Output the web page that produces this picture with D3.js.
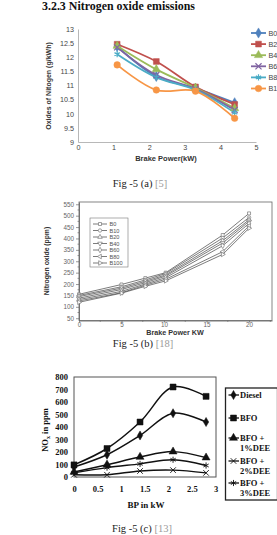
<!DOCTYPE html>
<html><head><meta charset="utf-8">
<script src="https://cdn.jsdelivr.net/npm/d3@7"></script>
<style>body{margin:0;background:#fff}svg{display:block}</style>
</head><body>
<svg id="c" width="277" height="535"></svg>
<script>
// ---------- text ----------
const heading = "3.2.3 Nitrogen oxide emissions";
const captionMain = ["Fig -5 (a) ", "Fig -5 (b) ", "Fig -5 (c) "];
const captionRef = ["[5]", "[18]", "[13]"];

// ---------- chart (a) ----------
const aNames = ["B0", "B20", "B40", "B60", "B80", "B100"];
const aX = [1.1, 2.2, 3.3, 4.4];
const aB0 = [12.38, 11.32, 10.9, 10.39];
const aB20 = [12.46, 11.85, 10.95, 10.33];
const aB40 = [12.4, 11.57, 10.92, 10.19];
const aB60 = [12.35, 11.37, 10.88, 10.13];
const aB80 = [12.11, 11.29, 10.85, 10.04];
const aB100 = [11.73, 10.84, 10.8, 9.84];
const aXTicks = [0, 1, 2, 3, 4, 5];
const aYTicks = [9, 9.5, 10, 10.5, 11, 11.5, 12, 12.5, 13];
const aXTitle = "Brake Power(kW)";
const aYTitle = "Oxides of Nitogen (g/kWh)";

// ---------- chart (b) ----------
const bNames = ["B0", "B10", "B20", "B40", "B60", "B80", "B100"];
const bX = [0, 5, 7.8, 10.2, 16.9, 20];
const bB0 = [155, 198, 226, 250, 415, 510];
const bB10 = [150, 188, 218, 246, 402, 492];
const bB20 = [145, 182, 212, 240, 390, 482];
const bB40 = [138, 176, 206, 235, 380, 475];
const bB60 = [132, 168, 200, 228, 368, 466];
const bB80 = [126, 162, 195, 221, 342, 455];
const bB100 = [120, 160, 190, 214, 330, 445];
const bXTicks = [0, 5, 10, 15, 20];
const bYTicks = [50, 100, 150, 200, 250, 300, 350, 400, 450, 500, 550];
const bXTitle = "Brake Power KW";
const bYTitle = "Nitrogen oxide (ppm)";

// ---------- chart (c) ----------
const cNames = [["Diesel"], ["BFO"], ["BFO +", "1%DEE"], ["BFO +", "2%DEE"], ["BFO +", "3%DEE"]];
const cX = [0, 0.7, 1.4, 2.1, 2.8];
const cDiesel = [80, 178, 332, 510, 440];
const cBFO = [97, 228, 440, 720, 645];
const cDEE1 = [40, 98, 160, 203, 155];
const cDEE2 = [18, 18, 48, 55, 33];
const cDEE3 = [33, 75, 105, 138, 92];
const cXTicks = [0, 0.5, 1, 1.5, 2, 2.5, 3];
const cYTicks = [0, 100, 200, 300, 400, 500, 600, 700, 800];
const cXTitle = "BP in kW";

const svg = d3.select("#c");
svg.append("rect").attr("width", 277).attr("height", 535).attr("fill", "#fff");

// heading
svg.append("text").attr("x", 42).attr("y", 9.5)
  .attr("font-family", "Liberation Serif").attr("font-weight", "bold").attr("font-size", 11.5)
  .attr("textLength", 153).attr("lengthAdjust", "spacingAndGlyphs").attr("fill", "#111")
  .text(heading);

// captions
const capPos = [[140, 186.5], [143, 346.5], [142, 531.5]];
capPos.forEach((p, i) => {
  const t = svg.append("text").attr("x", p[0]).attr("y", p[1]).attr("text-anchor", "middle")
    .attr("font-family", "Liberation Serif").attr("font-size", 10.5).attr("fill", "#222");
  t.append("tspan").text(captionMain[i]);
  t.append("tspan").attr("fill", "#9a9a9a").text(captionRef[i]);
});

// ================= chart (a) =================
{
  const g = svg.append("g");
  const x = d3.scaleLinear().domain([0, 5]).range([78, 256]);
  const y = d3.scaleLinear().domain([9, 13]).range([142, 29]);
  const ya = g.append("g").attr("transform", "translate(78,0)")
    .call(d3.axisLeft(y).tickValues(aYTicks).tickSize(0).tickPadding(4).tickFormat(d3.format("")));
  const xa = g.append("g").attr("transform", "translate(0,142)")
    .call(d3.axisBottom(x).tickValues(aXTicks).tickSize(0).tickPadding(3).tickFormat(d3.format("d")));
  [ya, xa].forEach(a => {
    a.select(".domain").attr("stroke", "#a6a6a6").attr("stroke-width", 0.8);
    a.selectAll("text").attr("font-family", "Liberation Sans").attr("font-size", 7.2).attr("fill", "#444");
  });
  g.append("text").attr("transform", "translate(51,86) rotate(-90)").attr("text-anchor", "middle")
    .attr("font-family", "Liberation Sans").attr("font-weight", "bold").attr("font-size", 7)
    .attr("fill", "#333").text(aYTitle);
  g.append("text").attr("x", 166).attr("y", 161).attr("text-anchor", "middle")
    .attr("font-family", "Liberation Sans").attr("font-weight", "bold").attr("font-size", 7.5)
    .attr("fill", "#333").text(aXTitle);

  const series = [aB0, aB20, aB40, aB60, aB80, aB100];
  const colors = ["#4F81BD", "#C0504D", "#9BBB59", "#8064A2", "#4BACC6", "#F79646"];
  const syms = [d3.symbolDiamond, d3.symbolSquare, d3.symbolTriangle, d3.symbolX, d3.symbolAsterisk, d3.symbolCircle];
  const sizes = [30, 34, 30, 26, 26, 34];
  const line = d3.line().x((d, i) => x(aX[i])).y(d => y(d)).curve(d3.curveCatmullRom.alpha(0.5));
  const isStroke = s => s === d3.symbolX || s === d3.symbolAsterisk;
  function mark(sel, k, cx, cy) {
    const s = syms[k];
    sel.append("path").attr("transform", `translate(${cx},${cy})`)
      .attr("d", d3.symbol(s, sizes[k])())
      .attr("fill", isStroke(s) ? "none" : colors[k])
      .attr("stroke", colors[k]).attr("stroke-width", isStroke(s) ? 1.2 : 0.5);
  }
  series.forEach((vals, k) => {
    g.append("path").attr("d", line(vals)).attr("fill", "none")
      .attr("stroke", colors[k]).attr("stroke-width", 1.8);
  });
  series.forEach((vals, k) => {
    vals.forEach((v, i) => mark(g, k, x(aX[i]), y(v)));
  });
  // legend (clipped at the right edge, as in the reference)
  aNames.forEach((n, k) => {
    const yy = 33 + k * 11.1;
    g.append("line").attr("x1", 251).attr("x2", 266).attr("y1", yy).attr("y2", yy)
      .attr("stroke", colors[k]).attr("stroke-width", 1.8);
    mark(g, k, 258.5, yy);
    g.append("text").attr("x", 268.5).attr("y", yy + 2.6).attr("font-family", "Liberation Sans")
      .attr("font-size", 7.2).attr("fill", "#444").text(n);
  });
}

// ================= chart (b) =================
{
  const g = svg.append("g");
  const x = d3.scaleLinear().domain([0, 22.7]).range([79, 272]);
  const y = d3.scaleLinear().domain([40, 560]).range([320.5, 202]);
  const ya = g.append("g").attr("transform", "translate(79,0)")
    .call(d3.axisLeft(y).tickValues(bYTicks).tickSize(3).tickSizeOuter(0).tickPadding(2));
  const xa = g.append("g").attr("transform", "translate(0,320.5)")
    .call(d3.axisBottom(x).tickValues(bXTicks).tickSize(2).tickSizeOuter(0).tickPadding(0.5));
  // minor ticks
  d3.range(75, 550, 50).forEach(v => g.append("line").attr("x1", 79).attr("x2", 77.5)
    .attr("y1", y(v)).attr("y2", y(v)).attr("stroke", "#555").attr("stroke-width", 0.6));
  d3.range(2.5, 22.6, 5).forEach(v => g.append("line").attr("y1", 320.5).attr("y2", 321.8)
    .attr("x1", x(v)).attr("x2", x(v)).attr("stroke", "#555").attr("stroke-width", 0.6));
  [ya, xa].forEach(a => {
    a.select(".domain").attr("stroke", "#555").attr("stroke-width", 0.8);
    a.selectAll(".tick line").attr("stroke", "#555").attr("stroke-width", 0.6);
    a.selectAll("text").attr("font-family", "Liberation Sans").attr("font-size", 6.3).attr("fill", "#666");
  });
  g.append("rect").attr("x", 79).attr("y", 202).attr("width", 193).attr("height", 118.5)
    .attr("fill", "none").attr("stroke", "#666").attr("stroke-width", 0.8);
  g.append("text").attr("transform", "translate(49,261) rotate(-90)").attr("text-anchor", "middle")
    .attr("font-family", "Liberation Sans").attr("font-weight", "bold").attr("font-size", 6.8)
    .attr("fill", "#333").text(bYTitle);
  g.append("text").attr("x", 175).attr("y", 334.5).attr("text-anchor", "middle")
    .attr("font-family", "Liberation Sans").attr("font-weight", "bold").attr("font-size", 7.2)
    .attr("fill", "#333").text(bXTitle);

  const series = [bB0, bB10, bB20, bB40, bB60, bB80, bB100];
  const syms = [[d3.symbolSquare, 0], [d3.symbolCircle, 0], [d3.symbolTriangle, 0], [d3.symbolTriangle, 180],
                [d3.symbolDiamond, 0], [d3.symbolTriangle, -90], [d3.symbolTriangle, 90]];
  const line = d3.line().x((d, i) => x(bX[i])).y(d => y(d));
  function mark(sel, k, cx, cy) {
    sel.append("path").attr("transform", `translate(${cx},${cy}) rotate(${syms[k][1]})`)
      .attr("d", d3.symbol(syms[k][0], 9)()).attr("fill", "#fff")
      .attr("stroke", "#777").attr("stroke-width", 0.7);
  }
  series.forEach(vals => g.append("path").attr("d", line(vals)).attr("fill", "none")
    .attr("stroke", "#444").attr("stroke-width", 0.7));
  series.forEach((vals, k) => vals.forEach((v, i) => mark(g, k, x(bX[i]), y(v))));
  // legend
  g.append("rect").attr("x", 90).attr("y", 218).attr("width", 38).attr("height", 49)
    .attr("fill", "#fff").attr("stroke", "#777").attr("stroke-width", 0.6);
  bNames.forEach((n, k) => {
    const yy = 224 + k * 6.5;
    g.append("line").attr("x1", 93).attr("x2", 107).attr("y1", yy).attr("y2", yy)
      .attr("stroke", "#444").attr("stroke-width", 0.7);
    mark(g, k, 100, yy);
    g.append("text").attr("x", 109.5).attr("y", yy + 2).attr("font-family", "Liberation Sans")
      .attr("font-size", 5.6).attr("fill", "#555").text(n);
  });
}

// ================= chart (c) =================
{
  const g = svg.append("g");
  const x = d3.scaleLinear().domain([0, 3]).range([74, 215.5]);
  const y = d3.scaleLinear().domain([0, 800]).range([477, 377]);
  g.append("rect").attr("x", 74).attr("y", 377).attr("width", 142).attr("height", 100)
    .attr("fill", "none").attr("stroke", "#555").attr("stroke-width", 1);
  const ya = g.append("g").attr("transform", "translate(74,0)")
    .call(d3.axisLeft(y).tickValues(cYTicks).tickSize(0).tickPadding(6));
  const xa = g.append("g").attr("transform", "translate(0,477)")
    .call(d3.axisBottom(x).tickValues(cXTicks).tickSize(0).tickPadding(9).tickFormat(d3.format("")));
  [ya, xa].forEach(a => {
    a.select(".domain").remove();
    a.selectAll("text").attr("font-family", "Liberation Serif").attr("font-weight", "bold")
      .attr("font-size", 8.5).attr("fill", "#111");
  });
  const yt = g.append("text").attr("transform", "translate(48,430) rotate(-90)").attr("text-anchor", "middle")
    .attr("font-family", "Liberation Serif").attr("font-weight", "bold").attr("font-size", 8.5).attr("fill", "#111");
  yt.append("tspan").text("NO");
  yt.append("tspan").attr("font-size", 6).attr("dy", 2).text("x");
  yt.append("tspan").attr("dy", -2).text(" in ppm");
  g.append("text").attr("x", 146).attr("y", 508).attr("text-anchor", "middle")
    .attr("font-family", "Liberation Serif").attr("font-weight", "bold").attr("font-size", 9)
    .attr("fill", "#111").text(cXTitle);

  const series = [cDiesel, cBFO, cDEE1, cDEE2, cDEE3];
  const syms = [d3.symbolDiamond, d3.symbolSquare, d3.symbolTriangle, d3.symbolX, d3.symbolAsterisk];
  const sizes = [24, 36, 28, 22, 26];
  const line = d3.line().x((d, i) => x(cX[i])).y(d => y(d)).curve(d3.curveCatmullRom.alpha(0.5));
  function mark(sel, k, cx, cy) {
    const s = syms[k];
    const st = s === d3.symbolX || s === d3.symbolAsterisk;
    sel.append("path").attr("transform", `translate(${cx},${cy})`)
      .attr("d", d3.symbol(s, sizes[k])())
      .attr("fill", st ? "none" : "#111").attr("stroke", "#111").attr("stroke-width", st ? 0.9 : 0.5);
  }
  series.forEach(vals => g.append("path").attr("d", line(vals)).attr("fill", "none")
    .attr("stroke", "#111").attr("stroke-width", 1.5));
  series.forEach((vals, k) => vals.forEach((v, i) => mark(g, k, x(cX[i]), y(v))));
  // legend
  g.append("rect").attr("x", 225.5).attr("y", 388).attr("width", 52).attr("height", 112)
    .attr("fill", "#fff").attr("stroke", "#222").attr("stroke-width", 1.3);
  const rows = [395, 418, 438, 461, 483];
  cNames.forEach((lines, k) => {
    const yy = rows[k];
    g.append("line").attr("x1", 228.5).attr("x2", 239).attr("y1", yy).attr("y2", yy)
      .attr("stroke", "#111").attr("stroke-width", 1.3);
    mark(g, k, 233.5, yy);
    lines.forEach((t, j) => g.append("text").attr("x", 240).attr("y", yy + 3 + j * 9.7)
      .attr("font-family", "Liberation Serif").attr("font-weight", "bold").attr("font-size", 8.5)
      .attr("fill", "#111").text(t));
  });
}
</script>
</body></html>
